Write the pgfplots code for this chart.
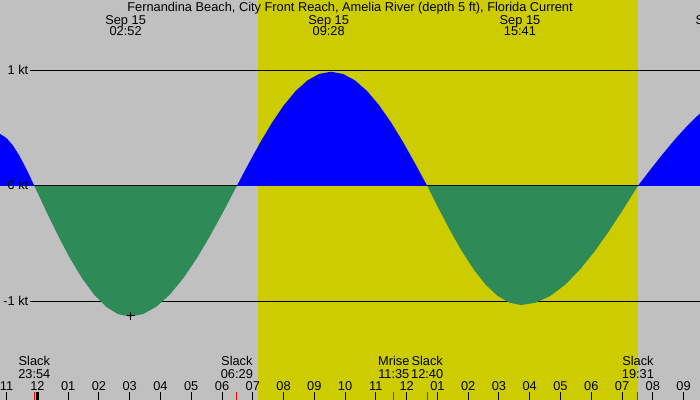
\documentclass[border=0pt]{standalone}
\usepackage{pgfplots}
\pgfplotsset{compat=1.18}
\usepackage{fontspec}
\setmainfont{Liberation Sans}

\definecolor{bggrey}{RGB}{192,192,192}
\definecolor{dayyellow}{RGB}{204,204,0}
\definecolor{ebbgreen}{RGB}{46,139,87}
\definecolor{floodblue}{RGB}{0,0,255}

% x axis in hours from midnight Sep 15, y axis in knots
\begin{document}
\begin{tikzpicture}[lbl/.style={inner sep=0pt, anchor=base, font=\fontsize{9.6}{10}\selectfont}]
\begin{axis}[
    width=525pt, height=300pt, scale only axis,
    xmin=-1.2155, xmax=21.534,
    ymin=-1.851, ymax=1.606,
    hide axis,
    clip=false,
]
\coordinate (ll) at (rel axis cs:0,0);
\coordinate (ur) at (rel axis cs:1,1);

% night / day background
\fill[bggrey] (rel axis cs:0,0) rectangle (rel axis cs:1,1);
\fill[dayyellow] (axis cs:7.158,-1.851) rectangle (axis cs:19.509,1.606);

% reference lines
\draw[line width=0.75pt] (axis cs:-0.2405,1) -- (axis cs:21.534,1);
\draw[line width=0.75pt] (axis cs:-0.2405,0) -- (axis cs:21.534,0);
\draw[line width=0.75pt] (axis cs:-0.2405,-1) -- (axis cs:21.534,-1);

% flood (end of previous)
\addplot[fill=floodblue, draw=none] coordinates {
  (-1.2155,0) (-1.2155,0.4486) (-1.0,0.412) (-0.8,0.350) (-0.6,0.2675)
  (-0.4,0.1675) (-0.25,0.0853) (-0.1,0)
} -- cycle;

% ebb 1
\addplot[fill=ebbgreen, draw=none] coordinates {
  (-0.1,0) (0.2875,-0.2205) (0.675,-0.4325) (1.0625,-0.6278) (1.45,-0.7990)
  (1.8375,-0.9396) (2.225,-1.0440) (2.6125,-1.1083) (3.0,-1.13)
  (3.4354,-1.1083) (3.8708,-1.0440) (4.3061,-0.9396) (4.7415,-0.7990)
  (5.1769,-0.6278) (5.6123,-0.4325) (6.0476,-0.2205) (6.483,0)
} -- cycle;

% flood 1
\addplot[fill=floodblue, draw=none] coordinates {
  (6.483,0) (6.8651,0.1924) (7.2473,0.3773) (7.6294,0.5478) (8.0115,0.6972)
  (8.3936,0.8199) (8.7758,0.9110) (9.1579,0.9671) (9.54,0.986)
  (9.9309,0.9671) (10.3218,0.9110) (10.7126,0.8199) (11.1035,0.6972)
  (11.4944,0.5478) (11.8853,0.3773) (12.2761,0.1924) (12.667,0)
} -- cycle;

% ebb 2
\addplot[fill=ebbgreen, draw=none] coordinates {
  (12.667,0) (13.0486,-0.2010) (13.4302,-0.3942) (13.8118,-0.5723) (14.1934,-0.7283)
  (14.575,-0.8564) (14.9566,-0.9516) (15.3382,-1.0102) (15.72,-1.03)
  (16.1946,-1.0102) (16.6692,-0.9516) (17.1439,-0.8564) (17.6185,-0.7283)
  (18.0931,-0.5723) (18.5677,-0.3942) (19.0424,-0.2010) (19.517,0)
} -- cycle;

% flood 2 (start)
\addplot[fill=floodblue, draw=none] coordinates {
  (19.517,0) (19.9,0.1325) (20.3,0.2674) (20.7,0.3956) (21.1,0.5136)
  (21.534,0.6268) (21.534,0)
} -- cycle;

% marker at the strongest ebb
\addplot[only marks, mark=+, mark size=3.3pt, mark options={line width=0.75pt, black}]
  coordinates {(3.04,-1.125)};

% speed labels
\node[lbl, anchor=base east] at (axis cs:-0.289,0.966) {1 kt};
\node[lbl, anchor=base east] at (axis cs:-0.289,-0.036) {0 kt};
\node[lbl, anchor=base east] at (axis cs:-0.289,-1.036) {-1 kt};

% title and max current times
\node[lbl] at (axis cs:10.159,1.505) {Fernandina Beach, City Front Reach, Amelia River (depth 5 ft), Florida Current};
\foreach \h/\t in {2.867/02:52, 9.467/09:28, 15.683/15:41, 22.05/21:58} {
  \edef\temp{\noexpand\node[lbl] at (axis cs:\h,1.396) {Sep 15};
    \noexpand\node[lbl] at (axis cs:\h,1.295) {\t};}
  \temp
}

% slack and moon events
\foreach \h/\e/\t in {-0.1/Slack/23:54, 6.483/Slack/06:29, 11.583/Mrise/11:35, 12.667/Slack/12:40, 19.517/Slack/19:31} {
  \edef\temp{\noexpand\node[lbl] at (axis cs:\h,-1.557) {\e};
    \noexpand\node[lbl] at (axis cs:\h,-1.664) {\t};
    \noexpand\draw[red, line width=0.75pt] (axis cs:\h,-1.782) -- (axis cs:\h,-1.851);}
  \temp
}

% hour ticks
\foreach \h/\l in {-1/11, 0/12, 1/01, 2/02, 3/03, 4/04, 5/05, 6/06, 7/07, 8/08, 9/09, 10/10,
    11/11, 12/12, 13/01, 14/02, 15/03, 16/04, 17/05, 18/06, 19/07, 20/08, 21/09} {
  \edef\temp{\noexpand\node[lbl] at (axis cs:\h,-1.765) {\l};
    \noexpand\draw[black, line width=0.75pt] (axis cs:\h,-1.782) -- (axis cs:\h,-1.851);}
  \temp
}
\draw[black, line width=2pt] (axis cs:0,-1.782) -- (axis cs:0,-1.851);
\end{axis}
\pgfresetboundingbox
\path[use as bounding box] (ll) rectangle (ur);
\end{tikzpicture}
\end{document}
